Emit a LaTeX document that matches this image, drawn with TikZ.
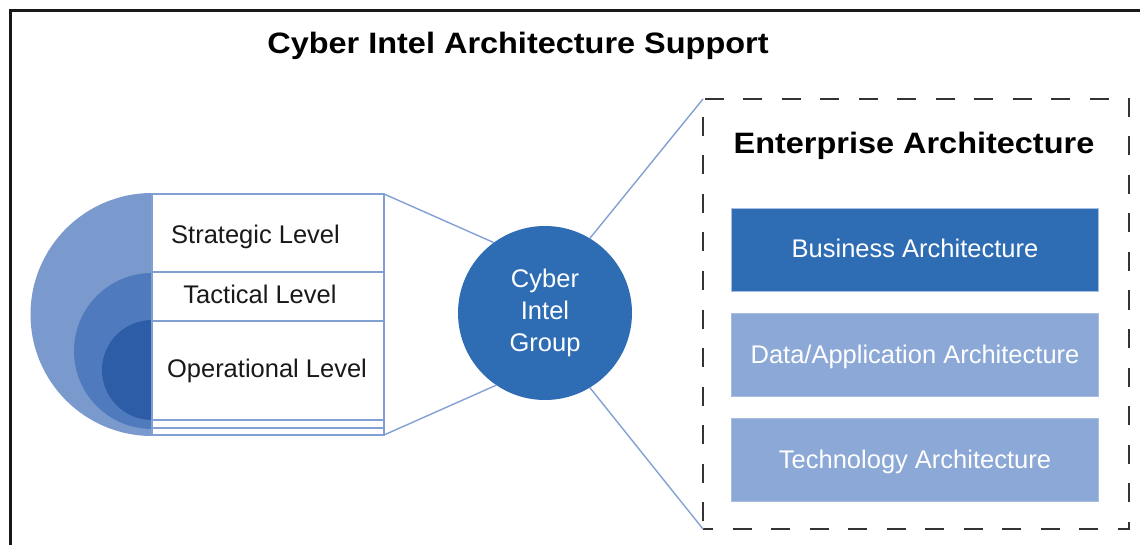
\documentclass[tikz,border=0pt]{standalone}
\usepackage{fontspec}
\setmainfont{Liberation Sans}
\newfontfamily\headfont[FakeStretch=1.1]{Liberation Sans Bold}
\usepackage{tikz}

\definecolor{disc_light}{RGB}{122,153,204}
\definecolor{disc_mid}{RGB}{80,122,190}
\definecolor{disc_dark}{RGB}{46,93,168}
\definecolor{link_blue}{RGB}{130,160,212}
\definecolor{deep_blue}{RGB}{46,108,180}
\definecolor{soft_blue}{RGB}{139,168,214}

\begin{document}
\begin{tikzpicture}[x=1pt, y=-1pt,
    head_text/.style={anchor=base, font=\headfont\fontsize{29.5}{34}\selectfont},
    level_text/.style={anchor=base, text=black!90, font=\fontsize{25.5}{30}\selectfont},
    arch_box/.style={draw=link_blue!70, line width=0.8pt, minimum width=367pt, minimum height=83pt,
        inner sep=0pt, outer sep=0pt},
    arch_text/.style={anchor=base, text=white, font=\fontsize{25.5}{30}\selectfont},
    link/.style={draw=link_blue, line width=1.4pt}]

    \useasboundingbox (0,0) rectangle (1140,545);

    % outer frame (left and top only)
    \draw[line width=2.5pt, black!90] (10.5,545) -- (10.5,10.5) -- (1140,10.5);

    \node[head_text] (0) at (518,53.5) {Cyber Intel Architecture Support};

    % nested half discs
    \fill[disc_light] (152,436) arc[start angle=90, end angle=270, radius=121.5] -- cycle;
    \fill[disc_mid] (152,429) arc[start angle=90, end angle=270, radius=78] -- cycle;
    \fill[disc_dark] (152,420) arc[start angle=90, end angle=270, radius=50] -- cycle;

    % level table
    \node[draw=link_blue, line width=1.4pt, minimum width=232pt, minimum height=241pt,
        inner sep=0pt, outer sep=0pt] (1) at (268,314.5) {};
    \draw[link] (152,272) -- (384,272);
    \draw[link] (152,321) -- (384,321);
    \draw[link] (152,420) -- (384,420);
    \draw[link] (152,428) -- (384,428);

    \node[level_text] (2) at (255.5,244) {Strategic Level};
    \node[level_text] (3) at (260,304) {Tactical Level};
    \node[level_text] (4) at (267,377) {Operational Level};

    \node[circle, fill=deep_blue, minimum size=174pt, inner sep=0pt, outer sep=0pt,
        align=center, text=white, font=\fontsize{25.5}{32}\selectfont] (5) at (545,313) {Cyber\\Intel\\Group};

    % dashed frame round the architecture layers
    \node[draw=black!80, line width=1.6pt, dash pattern=on 19pt off 19.5pt, dash phase=9pt,
        minimum width=426pt, minimum height=430pt, inner sep=0pt, outer sep=0pt] (6) at (916,314) {};

    \node[head_text] (7) at (914,154) {Enterprise Architecture};

    \node[arch_box, fill=deep_blue] (8) at (915.3,249.5) {};
    \node[arch_box, fill=soft_blue] (9) at (915.3,354.5) {};
    \node[arch_box, fill=soft_blue] (10) at (915.3,459.5) {};
    \node[arch_text] (11) at (915,258) {Business Architecture};
    \node[arch_text] (12) at (915,363) {Data/Application Architecture};
    \node[arch_text] (13) at (915,468) {Technology Architecture};

    \draw[link] (1.north east) -- (5.126.8);
    \draw[link] (1.south east) -- (5.236.8);
    \draw[link] (5.59.5) -- (6.north west);
    \draw[link] (5.-59.5) -- (6.south west);

\end{tikzpicture}
\end{document}
